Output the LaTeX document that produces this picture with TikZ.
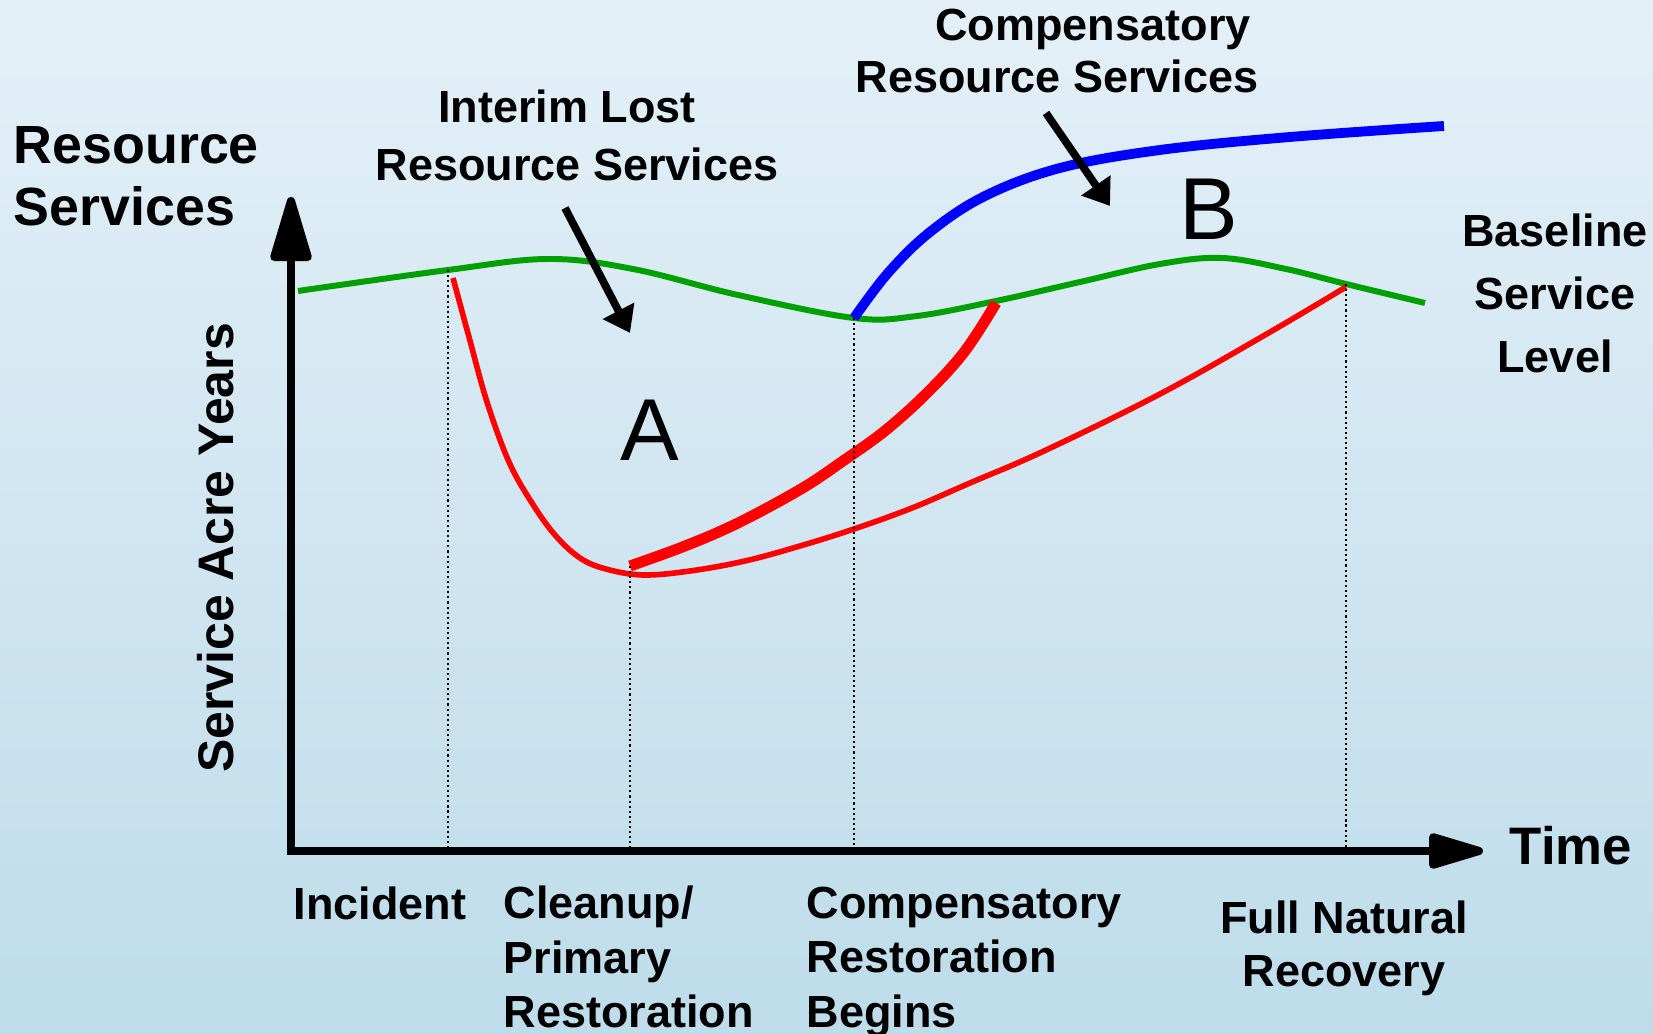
\documentclass[tikz,border=0pt]{standalone}
\usepackage{fontspec}
\setmainfont{Liberation Sans}
\usetikzlibrary{arrows.meta}
\definecolor{bgtop}{HTML}{E4F0F8}
\definecolor{bgbot}{HTML}{BEDCEA}
\definecolor{baseg}{HTML}{00A000}
\definecolor{lossr}{HTML}{FF0000}
\definecolor{gainb}{HTML}{0000FF}
\begin{document}
\begin{tikzpicture}[x=0.01cm,y=-0.01cm,
  lbl/.style={font=\bfseries\fontsize{12.8pt}{16.5pt}\selectfont, inner sep=0, align=center},
  biglbl/.style={font=\bfseries\fontsize{15.3pt}{17.6pt}\selectfont, inner sep=0},
  arealbl/.style={font=\fontsize{25pt}{30pt}\selectfont, inner sep=0},
  axisline/.style={line width=2.3pt, line join=miter},
  baseline/.style={baseg, line width=1.7pt},
  recovery/.style={lossr, line width=1.6pt},
  restore/.style={lossr, line width=3.1pt},
  compens/.style={gainb, line width=2.8pt},
  guide/.style={line width=0.45pt, dash pattern=on 0.6pt off 0.85pt},
  callout/.style={line width=2.2pt, -{Triangle[length=0.25cm,width=0.34cm]}}]

% background
\shade[top color=bgtop, bottom color=bgbot] (0,0) rectangle (1653,1034);
\useasboundingbox (0,0) rectangle (1653,1034);

% axes
\coordinate (O) at (291,851);
\coordinate (ytip) at (291,197);
\coordinate (xtip) at (1483,851);
\draw[axisline, {Triangle[length=0.75cm,width=0.42cm,round]}-{Triangle[length=0.65cm,width=0.36cm,round]}]
  (ytip) -- (O) -- (xtip);

% baseline service level
\coordinate (inc) at (448,270);
\coordinate (cmp) at (854,318);
\coordinate (fnr) at (1346,284);
\draw[baseline] plot[smooth, tension=0.6] coordinates {
  (298,291) (448,270) (548,259) (633,269) (738,295)
  (854,318) (917,316) (996,301) (1080,282) (1160,264)
  (1222,258) (1286,269) (1346,284) (1425,303)};

% natural recovery
\coordinate (cln) at (630,566);
\draw[recovery] plot[smooth, tension=0.6] coordinates {
  (453,278) (469,337) (487,402) (509,462) (532,503) (555,535) (580,558)
  (606,569) (643,575) (690,571) (745,561) (800,546) (854,529) (912,508)
  (970,483) (1044,451) (1160,394) (1265,335) (1346,287)};

% primary restoration
\draw[restore] plot[smooth, tension=0.6] coordinates {
  (630,566) (685,546) (738,523) (801,489) (843,461) (886,430) (928,392)
  (965,351) (996,303)};

% compensatory services
\draw[compens] plot[smooth, tension=0.6] coordinates {
  (854,318) (888,273) (930,232) (985,196) (1060,168) (1160,150)
  (1290,137) (1444,126)};

% time markers
\draw[guide] (inc) -- (inc |- O);
\draw[guide] (cln) -- (cln |- O);
\draw[guide] (cmp) -- (cmp |- O);
\draw[guide] (fnr) -- (fnr |- O);

% labels
\node[biglbl, anchor=west, align=left] (ylab) at (13,176.5) {Resource\\Services};
\node[biglbl, rotate=90, font=\bfseries\fontsize{14.2pt}{17pt}\selectfont] (yaxis) at (216,548) {Service Acre Years};
\node[biglbl, font=\bfseries\fontsize{15pt}{17pt}\selectfont] (time) at (1571,846) {Time};

\node[lbl] (interim1) at (567,106) {Interim Lost};
\node[lbl] (interim2) at (577,164) {Resource Services};
\node[lbl] (comp1) at (1093,29) {Compensatory};
\node[lbl] (comp2) at (1057,76) {Resource Services};
\node[lbl, font=\bfseries\fontsize{12.8pt}{17.9pt}\selectfont] (base) at (1555,293) {Baseline\\Service\\Level};

\node[lbl] (incident) at (380,903) {Incident};
\node[lbl, anchor=west, align=left, font=\bfseries\fontsize{12.8pt}{15.4pt}\selectfont] (cleanup) at (503,957) {Cleanup/\\Primary\\Restoration};
\node[lbl, anchor=west, align=left, font=\bfseries\fontsize{12.8pt}{15.4pt}\selectfont] (begins) at (806,962) {Compensatory\\Restoration\\Begins};
\node[lbl, font=\bfseries\fontsize{12.8pt}{15.1pt}\selectfont] (full) at (1344,948) {Full Natural\\Recovery};

\node[arealbl] (A) at (650,430) {A};
\node[arealbl] (B) at (1209,209) {B};

% callout arrows
\coordinate (a1s) at (565,208);
\coordinate (a1e) at (630,333);
\coordinate (a2s) at (1046,113);
\coordinate (a2e) at (1110,206);
\draw[callout] (a1s) -- (a1e);
\draw[callout] (a2s) -- (a2e);
\end{tikzpicture}
\end{document}
